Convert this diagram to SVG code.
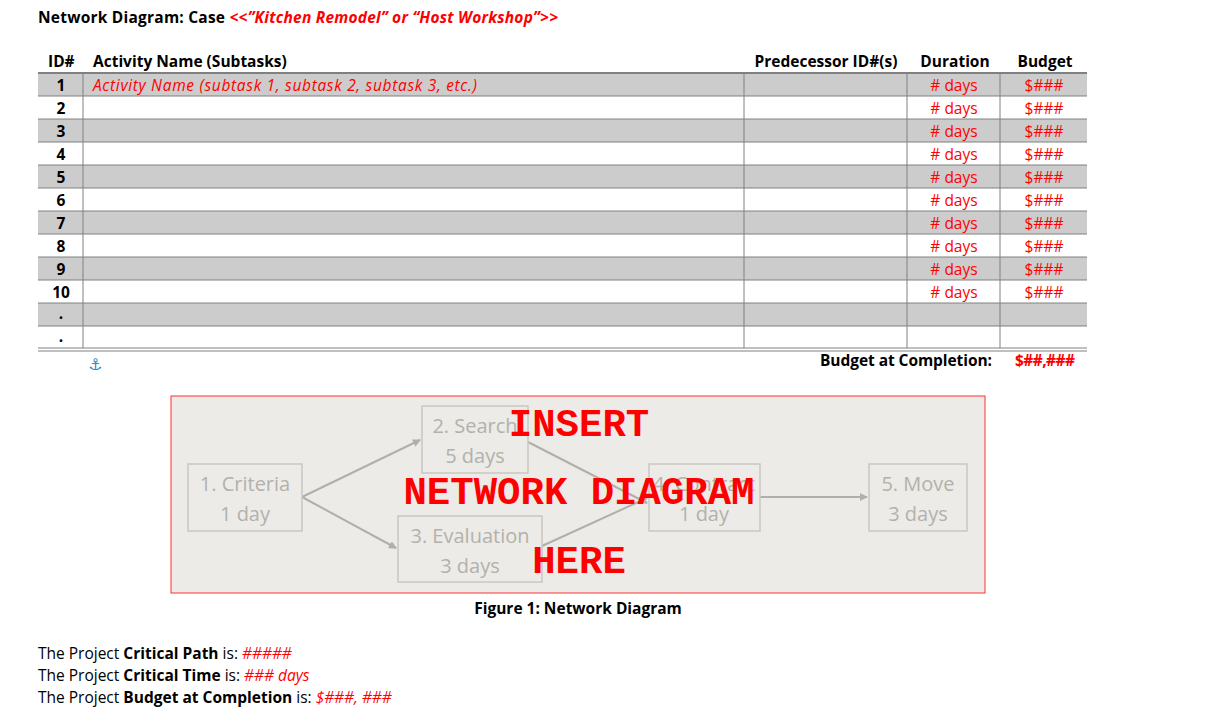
<svg xmlns="http://www.w3.org/2000/svg" width="1207" height="722" viewBox="0 0 1207 722">
<style>
text{font-family:"Open Sans","Liberation Sans",sans-serif;font-size:15.5px;fill:#000}
.b{font-weight:bold}
.r{fill:#ff0000}
.i{font-style:italic}
.c{text-anchor:middle}
.g{fill:#cccccc}
.ln{stroke:#808080;stroke-width:1;fill:none}
.nd rect{fill:none;stroke:#c8c8c0;stroke-width:1.5}
.nd text{fill:#b2b2aa;font-size:20px;text-anchor:middle;font-family:"Open Sans","Liberation Sans",sans-serif}
.big{font-family:"Liberation Mono",monospace;font-weight:bold;font-size:39px;fill:#ff0000}
.ar{stroke:#b0b0a8;stroke-width:2;fill:none;marker-end:url(#ah)}
</style>
<defs><marker id="ah" markerWidth="8" markerHeight="8" refX="7" refY="4" orient="auto" markerUnits="userSpaceOnUse"><path d="M0,0L8,4L0,8z" fill="#b0b0a8"/></marker></defs>
<rect width="1207" height="722" fill="#fff"/>
<text x="38" y="23" class="b" textLength="520">Network Diagram: Case <tspan class="r i">&lt;&lt;”Kitchen Remodel” or “Host Workshop”&gt;&gt;</tspan></text>
<g id="table">
<text x="48" y="67" class="b">ID#</text>
<text x="93" y="67" class="b">Activity Name (Subtasks)</text>
<text x="826" y="67" class="b c">Predecessor ID#(s)</text>
<text x="955" y="67" class="b c">Duration</text>
<text x="1045" y="67" class="b c">Budget</text>
<rect x="38" y="73" width="1049" height="23" class="g"/>
<rect x="38" y="119" width="1049" height="23" class="g"/>
<rect x="38" y="165" width="1049" height="23" class="g"/>
<rect x="38" y="211" width="1049" height="23" class="g"/>
<rect x="38" y="257" width="1049" height="23" class="g"/>
<rect x="38" y="303" width="1049" height="23" class="g"/>
<path class="ln" d="M38,96H1087M38,119H1087M38,142H1087M38,165H1087M38,188H1087M38,211H1087M38,234H1087M38,257H1087M38,280H1087M38,303H1087M38,326H1087"/>
<path d="M38,73H1087" stroke="#808080" stroke-width="2"/>
<path class="ln" d="M38,348H1087M38,351H1087"/>
<path class="ln" d="M83,73V348M744,73V348M907,73V348M1000,73V348"/>
<g>
<text x="61" y="91" class="b c">1</text><text x="61" y="114" class="b c">2</text><text x="61" y="137" class="b c">3</text><text x="61" y="160" class="b c">4</text><text x="61" y="183" class="b c">5</text><text x="61" y="206" class="b c">6</text><text x="61" y="229" class="b c">7</text><text x="61" y="252" class="b c">8</text><text x="61" y="275" class="b c">9</text><text x="61" y="298" class="b c">10</text><text x="61" y="319" class="b c">.</text><text x="61" y="342" class="b c">.</text>
</g>
<text x="93" y="91" class="r i" textLength="384">Activity Name (subtask 1, subtask 2, subtask 3, etc.)</text>
<g>
<text x="954" y="91" class="r c"># days</text><text x="954" y="114" class="r c"># days</text><text x="954" y="137" class="r c"># days</text><text x="954" y="160" class="r c"># days</text><text x="954" y="183" class="r c"># days</text><text x="954" y="206" class="r c"># days</text><text x="954" y="229" class="r c"># days</text><text x="954" y="252" class="r c"># days</text><text x="954" y="275" class="r c"># days</text><text x="954" y="298" class="r c"># days</text>
<text x="1044" y="91" class="r c">$###</text><text x="1044" y="114" class="r c">$###</text><text x="1044" y="137" class="r c">$###</text><text x="1044" y="160" class="r c">$###</text><text x="1044" y="183" class="r c">$###</text><text x="1044" y="206" class="r c">$###</text><text x="1044" y="229" class="r c">$###</text><text x="1044" y="252" class="r c">$###</text><text x="1044" y="275" class="r c">$###</text><text x="1044" y="298" class="r c">$###</text>
</g>
<text x="820" y="366" class="b" textLength="172">Budget at Completion:</text>
<text x="1015" y="366" class="b r" textLength="60">$##,###</text>
<text x="88" y="370" style="fill:#2a8ad4;font-family:'DejaVu Sans',sans-serif;font-size:16px">⚓</text>
</g>
<rect x="171" y="396" width="814" height="197" fill="#ecebe8" stroke="#ff3030" stroke-width="1"/>
<g id="connectors">
<path class="ar" d="M302,497L420,440"/>
<path class="ar" d="M302,497L396,548"/>
<path class="ar" d="M528,442L647,503"/>
<path class="ar" d="M542,546L647,498"/>
<path class="ar" d="M760,497L867,497"/>
</g>
<g id="n1" class="nd"><rect x="188" y="464" width="114" height="67"/><text x="245" y="491">1. Criteria</text><text x="245" y="521">1 day</text></g>
<g id="n2" class="nd"><rect x="422" y="406" width="106" height="67"/><text x="475" y="433">2. Search</text><text x="475" y="463">5 days</text></g>
<g id="n3" class="nd"><rect x="398" y="516" width="144" height="66"/><text x="470" y="543">3. Evaluation</text><text x="470" y="573">3 days</text></g>
<g id="n4" class="nd"><rect x="649" y="464" width="111" height="67"/><text x="704" y="491">4. Contract</text><text x="704" y="521">1 day</text></g>
<g id="n5" class="nd"><rect x="869" y="464" width="98" height="67"/><text x="918" y="491">5. Move</text><text x="918" y="521">3 days</text></g>
<text x="579" y="436" class="big c">INSERT</text>
<text x="579" y="504" class="big c">NETWORK DIAGRAM</text>
<text x="579" y="573" class="big c">HERE</text>
<text x="578" y="614" class="b c">Figure 1: Network Diagram</text>
<text x="38" y="659">The Project <tspan class="b">Critical Path</tspan> is: <tspan class="r i">#####</tspan></text>
<text x="38" y="681">The Project <tspan class="b">Critical Time</tspan> is: <tspan class="r i">### days</tspan></text>
<text x="38" y="703">The Project <tspan class="b">Budget at Completion</tspan> is: <tspan class="r i">$###, ###</tspan></text>
</svg>
